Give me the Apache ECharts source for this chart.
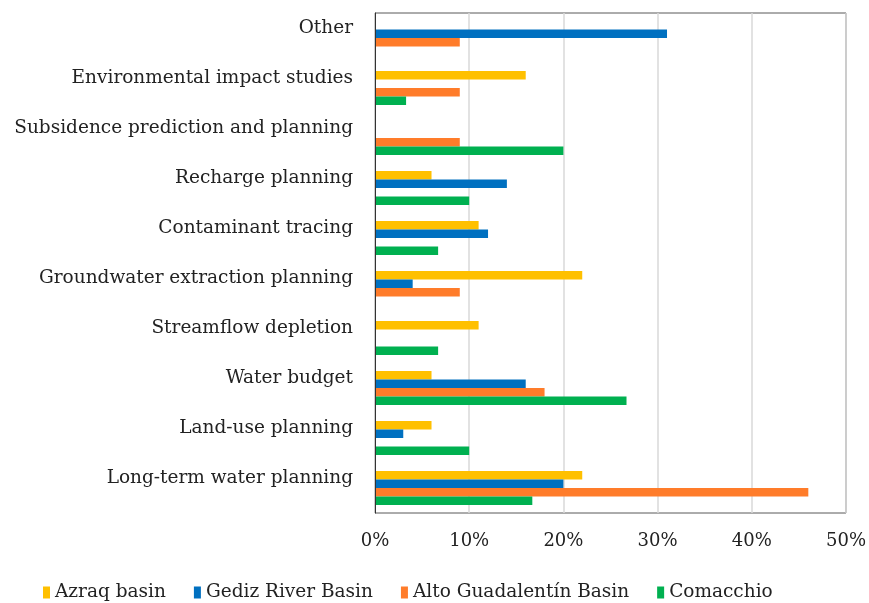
<!DOCTYPE html>
<html>
<head>
<meta charset="utf-8">
<script src="https://cdn.jsdelivr.net/npm/echarts@6/dist/echarts.min.js"></script>
<style>
    html, body { margin: 0; padding: 0; background: #fff; }
    #chart { width: 869px; height: 603px; }
</style>
</head>
<body>
<div id="chart"></div>
<script>
    // categories, top to bottom
    var categories = [
        'Other',
        'Environmental impact studies',
        'Subsidence prediction and planning',
        'Recharge planning',
        'Contaminant tracing',
        'Groundwater extraction planning',
        'Streamflow depletion',
        'Water budget',
        'Land-use planning',
        'Long-term water planning'
    ]
    var seriesNames = ['Azraq basin', 'Gediz River Basin', 'Alto Guadalentín Basin', 'Comacchio']
    // percentages, same order as categories
    var azraq = [0, 16, 0, 6, 11, 22, 11, 6, 6, 22]
    var gediz = [31, 0, 0, 14, 12, 4, 0, 16, 3, 20]
    var altoGuadalentin = [9, 9, 9, 0, 0, 9, 0, 18, 0, 46]
    var comacchio = [0, 3.3, 20, 10, 6.7, 0, 6.7, 26.7, 10, 16.7]
    var xTicks = [0, 10, 20, 30, 40, 50]

    var colors = ['#FFC000', '#0070C0', '#FF7C2A', '#00B050']
    var font = '"DejaVu Serif", serif'

    var myChart = echarts.init(document.getElementById('chart'))
    var allData = [azraq, gediz, altoGuadalentin, comacchio]

    var option = {
        animation: false,
        color: colors,
        grid: {
            left: 375,
            right: 21,
            top: 13,
            bottom: 90,
            show: true,
            borderColor: '#595959',
            borderWidth: 1
        },
        legend: {
            data: seriesNames,
            top: 578,
            left: 38,
            itemWidth: 7,
            itemHeight: 12,
            itemGap: 28,
            icon: 'rect',
            textStyle: {
                fontFamily: font,
                fontSize: 18.5,
                color: '#222'
            }
        },
        xAxis: {
            type: 'value',
            min: xTicks[0],
            max: xTicks[xTicks.length - 1],
            interval: 10,
            axisLine: { show: false },
            axisTick: { show: false },
            splitLine: { lineStyle: { color: '#d9d9d9', width: 1.5 } },
            axisLabel: {
                formatter: '{value}%',
                margin: 19,
                fontFamily: font,
                fontSize: 18,
                color: '#222'
            }
        },
        yAxis: {
            type: 'category',
            data: categories,
            inverse: true,
            z: 3,
            axisLine: { show: true, lineStyle: { color: '#333' } },
            axisTick: { show: false },
            axisLabel: {
                margin: 22,
                fontFamily: font,
                fontSize: 18.5,
                color: '#222',
                verticalAlign: 'bottom'
            }
        },
        series: seriesNames.map(function (name, i) {
            return {
                name: name,
                type: 'bar',
                data: allData[i],
                barGap: '0%',
                barCategoryGap: '32%'
            }
        })
    }
    myChart.setOption(option)
</script>
</body>
</html>
